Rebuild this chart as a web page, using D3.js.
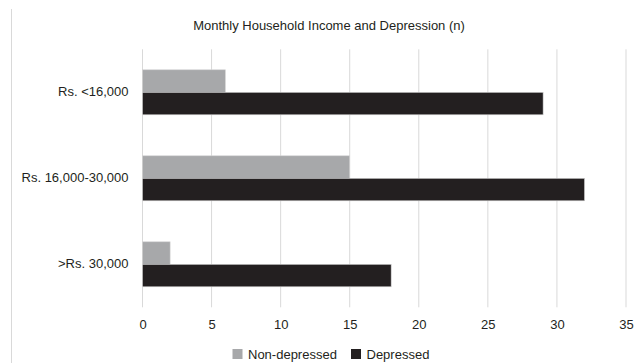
<!DOCTYPE html>
<html>
<head>
<meta charset="utf-8">
<script src="https://cdn.jsdelivr.net/npm/d3@7/dist/d3.min.js"></script>
<style>
  body { margin: 0; background: #fff; }
  text { font-family: "Liberation Sans", Arial, sans-serif; fill: #231f20; }
</style>
</head>
<body>
<div id="chart"></div>
<script>
// data
var categories = ["Rs. <16,000", "Rs. 16,000-30,000", ">Rs. 30,000"];
var seriesNames = ["Non-depressed", "Depressed"];
var nonDepressed = [6, 15, 2];
var depressed = [29, 32, 18];
var xTicks = [0, 5, 10, 15, 20, 25, 30, 35];
var colors = ["#a7a8aa", "#231f20"];

var svgWidth = 642;
var svgHeight = 363;
var margin = {top: 49.3, right: 16, bottom: 55.7, left: 142.5};
var width = svgWidth - margin.left - margin.right;
var height = svgHeight - margin.top - margin.bottom;

var svg = d3.select("#chart")
  .append("svg")
  .attr("width", svgWidth)
  .attr("height", svgHeight);

// outer frame edge
svg.append("line")
  .attr("x1", 11.5).attr("x2", 11.5)
  .attr("y1", 9).attr("y2", svgHeight)
  .attr("stroke", "#d9d9d9");

// title
svg.append("text")
  .attr("x", 329)
  .attr("y", 25)
  .attr("text-anchor", "middle")
  .attr("dominant-baseline", "central")
  .attr("font-size", "13px")
  .text("Monthly Household Income and Depression (n)");

var chartGroup = svg.append("g")
  .attr("transform", `translate(${margin.left}, ${margin.top})`);

// scales
var xScale = d3.scaleLinear()
  .domain([0, 35])
  .range([0, width]);
var pad = 0.4767;
var yScale = d3.scaleBand()
  .domain(categories)
  .range([0, height])
  .paddingInner(pad)
  .paddingOuter(pad / 2);
var ySub = d3.scaleBand()
  .domain(seriesNames)
  .range([0, yScale.bandwidth()]);

// grid lines
chartGroup.append("g")
  .selectAll("line")
  .data(xTicks)
  .enter()
  .append("line")
  .attr("x1", d => xScale(d))
  .attr("x2", d => xScale(d))
  .attr("y1", 0)
  .attr("y2", height)
  .attr("stroke", "#d9d9d9");

// x axis labels
var bottomAxis = d3.axisBottom(xScale)
  .tickValues(xTicks)
  .tickSize(0)
  .tickPadding(12);
var xAxisG = chartGroup.append("g")
  .attr("transform", `translate(0, ${height})`)
  .call(bottomAxis);
xAxisG.select(".domain").remove();
xAxisG.selectAll("text")
  .attr("font-size", "13px")
  .attr("font-family", "Liberation Sans, Arial, sans-serif")
  .attr("fill", "#231f20");

// y axis labels
var leftAxis = d3.axisLeft(yScale)
  .tickSize(0)
  .tickPadding(14);
var yAxisG = chartGroup.append("g")
  .call(leftAxis);
yAxisG.select(".domain").remove();
yAxisG.selectAll("text")
  .attr("font-size", "13px")
  .attr("font-family", "Liberation Sans, Arial, sans-serif")
  .attr("fill", "#231f20");

// bars
var barData = [];
categories.forEach(function(c, i) {
  barData.push({cat: c, series: seriesNames[0], value: nonDepressed[i]});
  barData.push({cat: c, series: seriesNames[1], value: depressed[i]});
});
chartGroup.selectAll("rect.bar")
  .data(barData)
  .enter()
  .append("rect")
  .attr("class", "bar")
  .attr("x", xScale(0))
  .attr("y", d => yScale(d.cat) + ySub(d.series))
  .attr("width", d => xScale(d.value) - xScale(0))
  .attr("height", ySub.bandwidth())
  .attr("fill", d => colors[seriesNames.indexOf(d.series)])
  .attr("stroke", "#d4d4d4")
  .attr("stroke-width", 0.6);

// legend
var legendX = [232.5, 351];
var legend = svg.append("g");
seriesNames.forEach(function(name, i) {
  legend.append("rect")
    .attr("x", legendX[i])
    .attr("y", 349)
    .attr("width", 10)
    .attr("height", 10)
    .attr("fill", colors[i]);
  legend.append("text")
    .attr("x", legendX[i] + 15.5)
    .attr("y", 354)
    .attr("dominant-baseline", "central")
    .attr("font-size", "13px")
    .text(name);
});
</script>
</body>
</html>
